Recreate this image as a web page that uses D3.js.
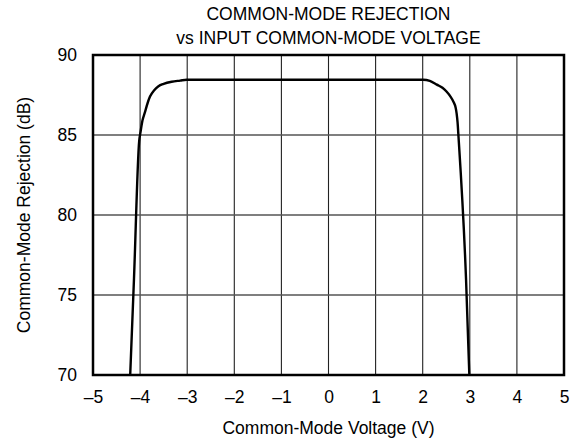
<!DOCTYPE html>
<html>
<head>
<meta charset="utf-8">
<script src="https://cdn.jsdelivr.net/npm/d3@7"></script>
<style>
  body { margin: 0; background: #fff; }
  text { font-family: "Liberation Sans", Arial, sans-serif; fill: #000; }
</style>
</head>
<body>
<svg width="574" height="443"></svg>
<script>
// curve: common-mode voltage (V) vs CMR (dB)
var voltage = [-4.21, -4.13, -4.02, -3.99, -3.95, -3.90, -3.84, -3.79, -3.70, -3.61, -3.50, -3.33, -3.15, -3.01,
               2.01, 2.15, 2.30, 2.42, 2.51, 2.59, 2.65, 2.70, 2.72, 2.74, 2.76, 2.92, 2.99];
var cmr = [70, 76, 84.6, 85.2, 85.9, 86.4, 87.0, 87.4, 87.8, 88.05, 88.2, 88.33, 88.4, 88.45,
           88.45, 88.38, 88.15, 87.95, 87.7, 87.4, 87.1, 86.7, 86.35, 85.8, 84.9, 76, 70];
var xTicks = [-5, -4, -3, -2, -1, 0, 1, 2, 3, 4, 5];
var yTicks = [70, 75, 80, 85, 90];

var svg = d3.select("svg"),
    margin = { top: 55, right: 10, bottom: 68, left: 93 },
    width = 564 - margin.left,
    height = 375 - margin.top,
    fontSize = "17.5px";

var x = d3.scaleLinear().domain([-5, 5]).range([0, width]);
var y = d3.scaleLinear().domain([70, 90]).range([height, 0]);

var g = svg.append("g")
    .attr("transform", "translate(" + margin.left + "," + margin.top + ")");

// grid
g.selectAll(".vgrid")
    .data(xTicks.slice(1, -1))
    .enter().append("line")
    .attr("x1", d => x(d)).attr("x2", d => x(d))
    .attr("y1", 0).attr("y2", height)
    .attr("stroke", "#222").attr("stroke-width", 1.1);

g.selectAll(".hgrid")
    .data(yTicks.slice(1, -1))
    .enter().append("line")
    .attr("x1", 0).attr("x2", width)
    .attr("y1", d => y(d)).attr("y2", d => y(d))
    .attr("stroke", "#555").attr("stroke-width", 1.4);

// axes (labels only)
var fmt = d => d < 0 ? "\u2013" + Math.abs(d) : d;

g.append("g")
    .attr("transform", "translate(0," + height + ")")
    .call(d3.axisBottom(x).tickValues(xTicks).tickSize(0).tickPadding(16).tickFormat(fmt))
    .call(a => a.select(".domain").remove())
    .selectAll("text").style("font-size", fontSize)
    .style("font-family", "'Liberation Sans', Arial, sans-serif");

g.append("g")
    .call(d3.axisLeft(y).tickValues(yTicks).tickSize(0).tickPadding(16))
    .call(a => a.select(".domain").remove())
    .selectAll("text").style("font-size", fontSize)
    .style("font-family", "'Liberation Sans', Arial, sans-serif");

// frame
g.append("rect")
    .attr("width", width).attr("height", height)
    .attr("fill", "none").attr("stroke", "#000").attr("stroke-width", 2.5);

// curve
var pts = voltage.map((v, i) => [v, cmr[i]]);
g.append("path")
    .datum(pts)
    .attr("fill", "none")
    .attr("stroke", "#000")
    .attr("stroke-width", 2.4)
    .attr("d", d3.line().x(d => x(d[0])).y(d => y(d[1])).curve(d3.curveMonotoneX));

// titles
svg.append("text").attr("x", margin.left + width / 2).attr("y", 19.5)
    .attr("text-anchor", "middle").style("font-size", fontSize)
    .text("COMMON-MODE REJECTION");
svg.append("text").attr("x", margin.left + width / 2).attr("y", 43.5)
    .attr("text-anchor", "middle").style("font-size", fontSize)
    .text("vs INPUT COMMON-MODE VOLTAGE");

svg.append("text").attr("x", margin.left + width / 2).attr("y", 434)
    .attr("text-anchor", "middle").style("font-size", fontSize)
    .text("Common-Mode Voltage (V)");

svg.append("text")
    .attr("transform", "translate(30," + (margin.top + height / 2) + ") rotate(-90)")
    .attr("text-anchor", "middle").style("font-size", fontSize)
    .text("Common-Mode Rejection (dB)");
</script>
</body>
</html>
